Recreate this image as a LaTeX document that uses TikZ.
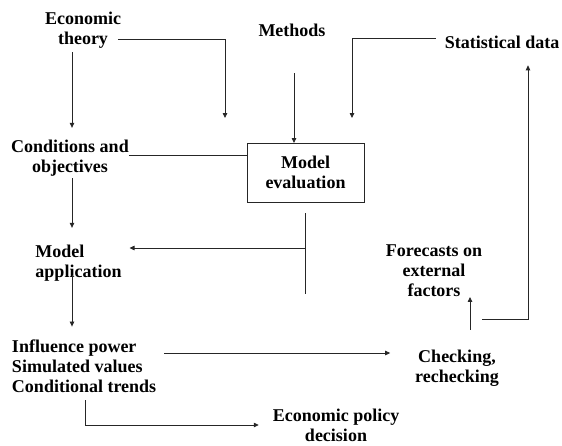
\documentclass[tikz,border=0pt]{standalone}
\usepackage{fontspec}
\setmainfont{Liberation Serif}
\usetikzlibrary{arrows.meta,positioning}

\begin{document}
\begin{tikzpicture}[
  x=1pt, y=-1pt, >={Triangle[length=5pt,width=4.5pt]},
  every node/.style={font=\fontsize{18}{20}\selectfont\bfseries,
                     inner sep=0pt, outer sep=0pt},
  line/.style={draw=black!85, line width=0.8pt},
  evalbox/.style={draw=black!85, line width=0.8pt, minimum width=117pt,
                  minimum height=59pt, align=center}
]
  \useasboundingbox (0,0) rectangle (562,445);

  % text blocks
  \node[align=center] (theory) at (83,30) {Economic\\theory};
  \node (methods) at (292,30) {Methods};
  \node (stat) at (502,42) {Statistical data};
  \node[evalbox] (eval) at (305.5,172.5) {Model\\evaluation};
  \node[align=center] (cond) at (70,158) {Conditions and\\objectives};
  \node[align=left] (app) at (78.5,263) {Model\\application};
  \node[align=left, anchor=west] (infl) at (12,366)
    {Influence power\\Simulated values\\Conditional trends};
  \node[align=center] (check) at (457,368) {Checking,\\rechecking};
  \node[align=center] (fore) at (434,271) {Forecasts on\\external\\factors};
  \node[align=center] (policy) at (336,425) {Economic policy\\decision};

  \coordinate (col) at (72,0);
  \coordinate (tin) at (225,118);
  \coordinate (sin) at (352,118);
  \coordinate (estem) at (305.5,294);

  % left column
  \draw[line, ->, shorten <=4pt, shorten >=12pt]
    (theory.south -| col) -- (cond.north -| col);
  \draw[line, ->, shorten <=2pt, shorten >=17pt]
    (cond.south -| col) -- (app.north -| col);
  \draw[line, ->, shorten <=-6pt, shorten >=13pt]
    (app.south -| col) -- (infl.north -| col);

  % inputs to the evaluation
  \draw[line, ->, shorten <=-3pt] ([yshift=-9pt]theory.east) -| (tin);
  \draw[line, ->, shorten <=37pt] (methods.south -| 294,0) -- (eval.north -| 294,0);
  \draw[line, ->, shorten <=9pt] ([yshift=4pt]stat.west) -| (sin);
  \draw[line] ([yshift=3pt]cond.east) -- ([yshift=3pt]cond.east -| eval.west);

  % evaluation back to application
  \draw[line, shorten <=11pt] (eval.south) -- (estem);
  \draw[line, ->, shorten >=8pt]
    ([yshift=15pt]app.east -| estem) -- ([yshift=15pt]app.east);

  % results
  \draw[line, ->, shorten <=8pt, shorten >=25pt]
    ([yshift=13pt]infl.east) -- ([yshift=13pt]infl.east -| check.west);
  \draw[line, ->, shorten <=20pt]
    ([xshift=13pt]check.north) -- ([xshift=13pt]check.north |- fore.south);
  \draw[line, ->, shorten >=17pt]
    ([yshift=-22pt]fore.south east) -| ([xshift=26pt]stat.south);
  \draw[line, ->, shorten >=14pt]
    ([xshift=73pt, yshift=-8pt]infl.south west) |- (policy.west);
\end{tikzpicture}
\end{document}
